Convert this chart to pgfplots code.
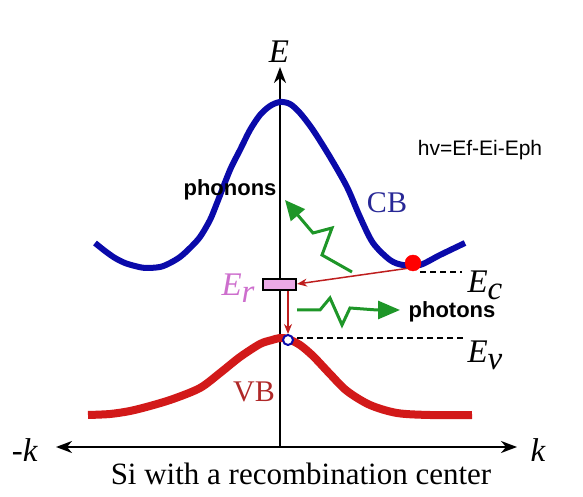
\documentclass[border=0pt]{standalone}
\usepackage{fontspec}
\setmainfont{Liberation Serif}
\setsansfont{Liberation Sans}
\usepackage{pgfplots}
\pgfplotsset{compat=1.18}
\usetikzlibrary{arrows.meta}

\definecolor{cbblue}{RGB}{10,10,170}
\definecolor{vbred}{RGB}{210,25,25}
\definecolor{phgreen}{RGB}{30,150,40}
\definecolor{erpink}{RGB}{235,170,230}
\definecolor{ertext}{RGB}{205,110,205}
\definecolor{cbtext}{RGB}{40,40,150}
\definecolor{vbtext}{RGB}{175,40,40}
\definecolor{arrred}{RGB}{190,30,30}

\begin{document}
\begin{tikzpicture}
\begin{axis}[
  x=1pt,y=1pt,scale only axis,
  xmin=0,xmax=583,ymin=0,ymax=497,
  hide axis,clip=false
]
% k and E axes
\addplot[black,line width=2pt,{Stealth[length=16pt,width=12pt,inset=5pt]}-{Stealth[length=16pt,width=12pt,inset=5pt]}]
  coordinates {(56,50)(517,50)};
\addplot[black,line width=2pt,-{Stealth[length=16pt,width=12pt,inset=5pt]}]
  coordinates {(280,50)(280,430)};

% conduction band
\addplot[cbblue,line width=6pt,smooth] coordinates {
  (95,254)(105,246)(115,239)(125,234)(135,231)(145,229)(160,230)(170,234)
  (180,240)(190,249)(200,260)(210,277)(217,294)(230,327)(240,347)(250,367)
  (260,382)(270,391)(280,395)(290,393)(300,384)(313,367)(330,340)(347,310)
  (360,280)(373,254)(390,237)(403,232)(420,232)(440,242)(465,254)};

% valence band
\addplot[vbred,line width=8pt,smooth] coordinates {
  (88,82)(110,83)(130,86)(150,91)(173,98)(200,109)(220,124)(240,140)
  (260,153)(272,157)(280,159)(288,158)(300,152)(313,141)(330,123)(347,106)
  (370,92)(397,84)(430,82)(472,82)};

% Ec and Ev levels
\addplot[black,line width=2pt,dashed,dash pattern=on 6pt off 4pt] coordinates {(420,225)(462,225)};
\addplot[black,line width=2pt,dashed,dash pattern=on 6pt off 4pt] coordinates {(297,159)(463,159)};

% capture of the electron by the centre
\addplot[arrred,line width=1.5pt,-{Stealth[length=10pt,width=8pt]}] coordinates {(410,229)(297,213)};
\addplot[arrred,line width=1.5pt,-{Stealth[length=10pt,width=8pt]}] coordinates {(288,207)(288,163)};

% recombination level
\addplot[fill=erpink,draw=black,line width=2pt] coordinates {(263,218)(296,218)(296,207)(263,207)} -- cycle;

% phonon and photon emission
\addplot[phgreen,line width=3pt,-{Triangle[length=20pt,width=18pt]}]
  coordinates {(352,225)(322,242)(332,269)(313,264)(285,297)};
\addplot[phgreen,line width=3pt,-{Triangle[length=22pt,width=18pt]}]
  coordinates {(297,187)(320,187)(330,199)(342,172)(350,189)(377,187)(400,187)};

% electron and hole
\addplot[only marks,mark=*,mark size=8pt,color=red] coordinates {(413,234)};
\addplot[only marks,mark=*,mark size=5pt,mark options={draw=cbblue,fill=white,line width=2pt}] coordinates {(288,157)};

% labels
\node[font=\fontsize{33}{36}\selectfont\itshape] at (axis cs:279,445) {E};
\node[font=\fontsize{33}{36}\selectfont] at (axis cs:25,47) {-\textit{k}};
\node[font=\fontsize{33}{36}\selectfont\itshape] at (axis cs:538,47) {k};
\node[font=\fontsize{31}{34}\selectfont] at (axis cs:301,23) {Si with a recombination center};
\node[font=\fontsize{30}{33}\selectfont,text=cbtext] at (axis cs:387,294) {CB};
\node[font=\fontsize{30}{33}\selectfont,text=vbtext] at (axis cs:254,105) {VB};
\node[font=\fontsize{33}{36}\selectfont\itshape,anchor=west] at (axis cs:464,212) {E\raisebox{-7pt}{c}};
\node[font=\fontsize{33}{36}\selectfont\itshape,anchor=west] at (axis cs:464,142) {E\raisebox{-7pt}{v}};
\node[font=\fontsize{33}{36}\selectfont\itshape,text=ertext] at (axis cs:238,209) {E\raisebox{-7pt}{r}};
\node[font=\sffamily\bfseries\fontsize{22}{24}\selectfont] at (axis cs:230,307) {phonons};
\node[font=\sffamily\bfseries\fontsize{22}{24}\selectfont] at (axis cs:452,185) {photons};
\node[font=\sffamily\fontsize{21}{24}\selectfont] at (axis cs:480,347) {hv=Ef-Ei-Eph};
\end{axis}
\pgfresetboundingbox
\path (current axis.south west) rectangle (current axis.north east);
\end{tikzpicture}
\end{document}
